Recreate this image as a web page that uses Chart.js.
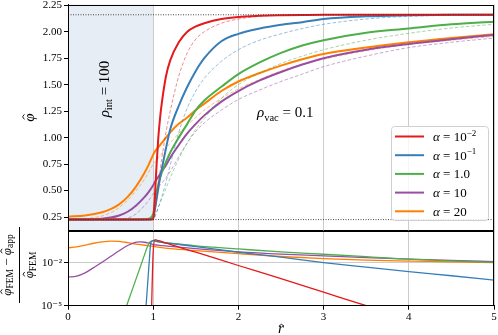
<!DOCTYPE html>
<html>
<head>
<meta charset="utf-8">
<script src="https://cdn.jsdelivr.net/npm/chart.js@4.4.1/dist/chart.umd.min.js"></script>
<style>
  html, body { margin: 0; padding: 0; background: #fff; }
  #wrap { position: relative; width: 498px; height: 335px; overflow: hidden; }
  canvas { position: absolute; left: 0; }
  #phi { top: 0; }
  #err { top: 226px; }
</style>
</head>
<body>
<div id="wrap">
  <canvas id="phi" width="498" height="232"></canvas>
  <canvas id="err" width="498" height="109"></canvas>
</div>
<script>
// ---- data ----
const R_TOP = [0, 0.2, 0.4, 0.5, 0.6, 0.7, 0.8, 0.9, 0.95, 1.0, 1.02, 1.04, 1.06, 1.08, 1.1,
  1.15, 1.2, 1.3, 1.4, 1.5, 1.6, 1.8, 2.0, 2.25, 2.5, 2.75, 3.0, 3.5, 4.0, 4.5, 5.0];

const PHI_A001 = [0.226, 0.226, 0.226, 0.226, 0.226, 0.226, 0.226, 0.226, 0.226, 0.23, 0.45, 0.75, 1.0, 1.18, 1.32,
  1.58, 1.73, 1.90, 2.00, 2.05, 2.08, 2.12, 2.14, 2.15, 2.155, 2.158, 2.16, 2.16, 2.16, 2.16, 2.16];
const PHI_A01 = [0.226, 0.226, 0.226, 0.226, 0.226, 0.226, 0.226, 0.226, 0.226, 0.24, 0.32, 0.42, 0.52, 0.62, 0.70,
  0.90, 1.08, 1.30, 1.48, 1.63, 1.75, 1.91, 1.98, 2.03, 2.065, 2.09, 2.12, 2.145, 2.155, 2.16, 2.16];
const PHI_A1 = [0.226, 0.226, 0.226, 0.226, 0.226, 0.226, 0.227, 0.229, 0.235, 0.28, 0.38, 0.48, 0.56, 0.62, 0.67,
  0.77, 0.86, 1.00, 1.13, 1.26, 1.35, 1.48, 1.60, 1.71, 1.80, 1.87, 1.92, 1.99, 2.03, 2.07, 2.095];
const PHI_A10 = [0.226, 0.227, 0.235, 0.245, 0.265, 0.30, 0.36, 0.44, 0.49, 0.55, 0.58, 0.605, 0.63, 0.655, 0.68,
  0.74, 0.81, 0.93, 1.04, 1.13, 1.21, 1.34, 1.44, 1.54, 1.62, 1.69, 1.75, 1.83, 1.885, 1.93, 1.97];
const PHI_A20 = [0.255, 0.265, 0.295, 0.325, 0.37, 0.44, 0.54, 0.67, 0.75, 0.84, 0.87, 0.89, 0.91, 0.93, 0.95,
  1.0, 1.05, 1.13, 1.19, 1.26, 1.32, 1.44, 1.53, 1.61, 1.68, 1.74, 1.79, 1.85, 1.90, 1.94, 1.975];

// approximations (thin dashed)
const APP_A001 = [0.226, 0.226, 0.226, 0.226, 0.226, 0.226, 0.226, 0.226, 0.226, 0.226, 0.30, 0.42, 0.55, 0.68, 0.80,
  1.05, 1.25, 1.58, 1.80, 1.93, 2.00, 2.08, 2.12, 2.145, 2.155, 2.16, 2.16, 2.16, 2.16, 2.16, 2.16];
const APP_A01 = [0.226, 0.226, 0.226, 0.226, 0.226, 0.226, 0.226, 0.226, 0.226, 0.226, 0.25, 0.29, 0.34, 0.39, 0.44,
  0.58, 0.74, 1.05, 1.28, 1.44, 1.56, 1.72, 1.83, 1.92, 1.98, 2.03, 2.07, 2.12, 2.145, 2.155, 2.16];
const APP_A1 = [0.226, 0.226, 0.226, 0.226, 0.226, 0.226, 0.226, 0.226, 0.226, 0.226, 0.26, 0.30, 0.34, 0.38, 0.42,
  0.52, 0.62, 0.80, 0.95, 1.08, 1.18, 1.37, 1.50, 1.61, 1.70, 1.77, 1.83, 1.92, 1.985, 2.035, 2.07];
const APP_A10 = [0.226, 0.226, 0.226, 0.227, 0.23, 0.24, 0.28, 0.36, 0.41, 0.47, 0.49, 0.51, 0.53, 0.55, 0.57,
  0.62, 0.68, 0.82, 0.95, 1.06, 1.14, 1.26, 1.36, 1.45, 1.53, 1.60, 1.67, 1.77, 1.85, 1.90, 1.94];
const APP_A20 = [0.23, 0.235, 0.26, 0.29, 0.34, 0.41, 0.50, 0.61, 0.68, 0.75, 0.77, 0.79, 0.81, 0.83, 0.85,
  0.90, 0.95, 1.04, 1.12, 1.19, 1.26, 1.37, 1.46, 1.55, 1.63, 1.69, 1.74, 1.82, 1.88, 1.92, 1.955];

const PHI_VAC = 2.16;   // dotted asymptotes
const PHI_INT = 0.226;

const R_ERR = [0, 0.1, 0.2, 0.3, 0.4, 0.5, 0.6, 0.7, 0.8, 0.85, 0.9, 0.95, 0.97, 0.98, 0.99, 1.0,
  1.02, 1.05, 1.1, 1.2, 1.5, 2, 2.5, 3, 3.5, 4, 4.5, 5];
const ERR_A001 = [null, null, null, null, null, null, null, null, null, null, null, null, 1e-8, 3.2e-6, 1e-3, 6.3e-2,
  0.437, 0.38, 0.316, 0.2, 0.0562, 0.0066, 7.9e-4, 8.9e-5, 1e-5, 1.26e-6, 1.6e-7, 2e-8];
const ERR_A01 = [null, null, null, null, null, null, null, null, null, 3e-8, 7.9e-7, 6.3e-3, 0.224, 0.316, 0.355, 0.38,
  0.355, 0.316, 0.282, 0.234, 0.141, 0.0562, 0.0251, 0.0105, 0.005, 0.00245, 0.00126, 0.00063];
const ERR_A1 = [null, null, null, null, null, null, 3.2e-7, 1.6e-5, 7.9e-4, 5.6e-3, 0.0398, 0.251, 0.316, 0.339, 0.355, 0.363,
  0.347, 0.316, 0.282, 0.24, 0.158, 0.0955, 0.0589, 0.0407, 0.0275, 0.0182, 0.0141, 0.011];
const ERR_A10 = [1e-3, 1.17e-3, 2e-3, 4.7e-3, 0.0112, 0.0282, 0.0708, 0.166, 0.288, 0.302, 0.282, 0.24, 0.224, 0.214, 0.204, 0.195,
  0.186, 0.178, 0.166, 0.145, 0.1, 0.0603, 0.0417, 0.0316, 0.0234, 0.0182, 0.0148, 0.0123];
const ERR_A20 = [0.115, 0.135, 0.178, 0.24, 0.302, 0.339, 0.324, 0.269, 0.209, 0.191, 0.174, 0.158, 0.155, 0.151, 0.148, 0.145,
  0.138, 0.129, 0.117, 0.102, 0.0741, 0.0447, 0.0282, 0.02, 0.0158, 0.0135, 0.0117, 0.0105];

const PHI_TICKS = [0.25, 0.5, 0.75, 1.0, 1.25, 1.5, 1.75, 2.0, 2.25];
const ERR_TICKS = [1e-5, 1e-2];
const ERR_TICK_LABELS = ['10⁻⁵', '10⁻²'];

const ALPHA_BASE = ['10', '10', '1.0', '10', '20'];
const ALPHA_EXP = ['−2', '−1', '', '', ''];
const COLORS = ['#e41a1c', '#377eb8', '#4daf4a', '#984ea3', '#ff7f00'];

const PHI = [PHI_A001, PHI_A01, PHI_A1, PHI_A10, PHI_A20];
const APP = [APP_A001, APP_A01, APP_A1, APP_A10, APP_A20];
const ERR = [ERR_A001, ERR_A01, ERR_A1, ERR_A10, ERR_A20];

// ---- helpers ----
const SERIF = "'Liberation Serif', 'DejaVu Serif', serif";
const GRID = '#cccccc';
const SHADE = '#e7edf5';
const font = (size, italic) => (italic ? 'italic ' : '') + size + 'px ' + SERIF;

const pts = (xs, ys) => xs.map((x, i) => ({ x: x, y: ys[i] }));

const fade = (hex, a) => {
  const n = parseInt(hex.slice(1), 16);
  return 'rgba(' + (n >> 16) + ',' + ((n >> 8) & 255) + ',' + (n & 255) + ',' + a + ')';
};

// draws text segments in a row; s.hat puts a small circumflex over the glyph
function rich(ctx, segs, x, y, align) {
  let w = 0;
  segs.forEach(s => { ctx.font = s.f; s.w = ctx.measureText(s.t).width; w += s.w; });
  let cx = align === 'center' ? x - w / 2 : x;
  ctx.textAlign = 'left';
  ctx.textBaseline = 'alphabetic';
  segs.forEach(s => {
    ctx.font = s.f;
    const by = y + (s.dy || 0);
    ctx.fillText(s.t, cx, by);
    if (s.hat) {
      const size = parseFloat(s.f.replace('italic ', ''));
      const hx = cx + s.w * 0.58, hy = by - size * (s.hat === 'low' ? 0.58 : 0.76);
      ctx.save();
      ctx.strokeStyle = ctx.fillStyle;
      ctx.lineWidth = 0.9;
      ctx.beginPath();
      ctx.moveTo(hx - size * 0.17, hy + size * 0.12);
      ctx.lineTo(hx, hy);
      ctx.lineTo(hx + size * 0.17, hy + size * 0.12);
      ctx.stroke();
      ctx.restore();
    }
    cx += s.w;
  });
}

const frame = {
  id: 'frame',
  beforeDraw(chart, args, opts) {
    if (!opts.shade) return;
    const { ctx, chartArea: a, scales: { x } } = chart;
    ctx.save();
    ctx.fillStyle = SHADE;
    ctx.fillRect(a.left, a.top, x.getPixelForValue(1) - a.left, a.bottom - a.top);
    ctx.restore();
  },
  afterDraw(chart) {
    const { ctx, chartArea: a } = chart;
    ctx.save();
    ctx.strokeStyle = '#000';
    ctx.lineWidth = 1;
    const l = Math.round(a.left) + 0.5, t = Math.round(a.top) + 0.5;
    const r = Math.round(a.right) - 0.5, b = Math.round(a.bottom) - 0.5;
    ctx.strokeRect(l, t, r - l, b - t);
    ctx.restore();
  }
};

const phiDecor = {
  id: 'phiDecor',
  afterDraw(chart) {
    const ctx = chart.ctx;
    ctx.save();
    ctx.fillStyle = '#000';
    // y title
    ctx.save();
    ctx.translate(34, 117.5);
    ctx.rotate(-Math.PI / 2);
    rich(ctx, [{ t: 'φ', f: font(15, true), hat: true }], 0, 0, 'center');
    ctx.restore();
    // rho_int, rotated
    ctx.save();
    ctx.translate(108.5, 89);
    ctx.rotate(-Math.PI / 2);
    rich(ctx, [{ t: 'ρ', f: font(15, true) }, { t: 'int', f: font(10.5), dy: 3.5 }, { t: ' = 100', f: font(15) }], 0, 0, 'center');
    ctx.restore();
    // rho_vac
    rich(ctx, [{ t: 'ρ', f: font(15, true) }, { t: 'vac', f: font(10.5), dy: 3.5 }, { t: ' = 0.1', f: font(15) }], 257, 117, 'left');

    // legend box
    const bx = 391.5, by = 126.5, bw = 97, bh = 94;
    ctx.fillStyle = 'rgba(255,255,255,0.8)';
    ctx.strokeStyle = '#d0d0d0';
    ctx.lineWidth = 1;
    ctx.beginPath();
    ctx.roundRect(bx, by, bw, bh, 3);
    ctx.fill();
    ctx.stroke();
    for (let i = 0; i < COLORS.length; i++) {
      const yy = 136.5 + i * 18.7;
      ctx.strokeStyle = COLORS[i];
      ctx.lineWidth = 2;
      ctx.beginPath();
      ctx.moveTo(395, yy);
      ctx.lineTo(424, yy);
      ctx.stroke();
      ctx.fillStyle = '#000';
      const segs = [{ t: 'α', f: font(13, true) }, { t: ' = ' + ALPHA_BASE[i], f: font(13) }];
      if (ALPHA_EXP[i]) segs.push({ t: ALPHA_EXP[i], f: font(9), dy: -5.5 });
      rich(ctx, segs, 433, yy + 4.5, 'left');
    }
    ctx.restore();
  }
};

const errDecor = {
  id: 'errDecor',
  afterDraw(chart) {
    const ctx = chart.ctx;
    ctx.save();
    ctx.fillStyle = '#000';
    // x title
    rich(ctx, [{ t: 'r', f: font(15, true), hat: 'low' }], 281, 333 - 226, 'center');
    // y title: relative error fraction
    ctx.translate(19.5, 265 - 226);
    ctx.rotate(-Math.PI / 2);
    rich(ctx, [{ t: 'φ', f: font(13, true), hat: true }, { t: 'FEM', f: font(9.5), dy: 2.5 },
      { t: ' − ', f: font(13) }, { t: 'φ', f: font(13, true), hat: true }, { t: 'app', f: font(9.5), dy: 2.5 }], 0, -9, 'center');
    ctx.fillRect(-38, -0.5, 76, 1);
    rich(ctx, [{ t: 'φ', f: font(13, true), hat: true }, { t: 'FEM', f: font(9.5), dy: 2.5 }], 0, 13.5, 'center');
    ctx.restore();
  }
};

const lineDs = (data, color, width, dash) => ({
  data: data,
  borderColor: color,
  borderWidth: width,
  borderDash: dash || [],
  pointRadius: 0,
  fill: false,
  cubicInterpolationMode: 'monotone',
  spanGaps: false
});

// ---- top chart: phi ----
const phiSets = [
  lineDs([{ x: 0, y: PHI_VAC }, { x: 5, y: PHI_VAC }], '#333', 0.9, [1, 1.5]),
  lineDs([{ x: 0, y: PHI_INT }, { x: 5, y: PHI_INT }], '#333', 0.9, [1, 1.5])
];
for (let i = 0; i < COLORS.length; i++) {
  phiSets.push(lineDs(pts(R_TOP, PHI[i]), COLORS[i], 2));
  phiSets.push(lineDs(pts(R_TOP, APP[i]), fade(COLORS[i], 0.5), 1, [3.5, 2]));
}

new Chart(document.getElementById('phi'), {
  type: 'line',
  data: { datasets: phiSets },
  plugins: [frame, phiDecor],
  options: {
    responsive: false,
    animation: false,
    devicePixelRatio: 1,
    events: [],
    layout: { padding: { left: 0, right: 4, top: 4.5, bottom: 1.5 } },
    plugins: { legend: { display: false }, tooltip: { enabled: false }, frame: { shade: true } },
    scales: {
      x: {
        type: 'linear', min: 0, max: 5,
        ticks: { stepSize: 1, display: false },
        grid: { color: GRID, drawTicks: false },
        border: { display: false },
        afterFit(s) { s.height = 0; }
      },
      y: {
        type: 'linear', min: 0.123, max: 2.257,
        afterBuildTicks(s) { s.ticks = PHI_TICKS.map(v => ({ value: v })); },
        ticks: { callback: v => v.toFixed(2), font: { family: SERIF, size: 11 }, color: '#000', padding: 2, autoSkip: false },
        grid: { drawOnChartArea: false, tickLength: 4, tickColor: '#000' },
        border: { color: '#000' },
        afterFit(s) { s.width = 68; s.paddingTop = 0; s.paddingBottom = 0; }
      }
    }
  }
});

// ---- bottom chart: relative error ----
const errSets = [];
for (let i = 0; i < COLORS.length; i++) {
  errSets.push(lineDs(pts(R_ERR, ERR[i]), COLORS[i], 1.3));
}

new Chart(document.getElementById('err'), {
  type: 'line',
  data: { datasets: errSets },
  plugins: [frame, errDecor],
  options: {
    responsive: false,
    animation: false,
    devicePixelRatio: 1,
    events: [],
    layout: { padding: { left: 0, right: 4, top: 4.5, bottom: 0 } },
    plugins: { legend: { display: false }, tooltip: { enabled: false }, frame: { shade: false } },
    scales: {
      x: {
        type: 'linear', min: 0, max: 5,
        ticks: { stepSize: 1, font: { family: SERIF, size: 11 }, color: '#000', padding: 1, callback: v => String(v) },
        grid: { color: GRID, tickLength: 4, tickColor: '#000' },
        border: { color: '#000' },
        afterFit(s) { s.height = 29.3; }
      },
      y: {
        type: 'logarithmic', min: 1e-5, max: 1.88,
        afterBuildTicks(s) { s.ticks = ERR_TICKS.map(v => ({ value: v })); },
        ticks: { callback: (v, i) => ERR_TICK_LABELS[i], font: { family: SERIF, size: 11 }, color: '#000', padding: 2, autoSkip: false },
        grid: { color: GRID, tickLength: 4, tickColor: '#000' },
        border: { color: '#000' },
        afterFit(s) { s.width = 68; s.paddingTop = 0; s.paddingBottom = 0; }
      }
    }
  }
});
</script>
</body>
</html>
